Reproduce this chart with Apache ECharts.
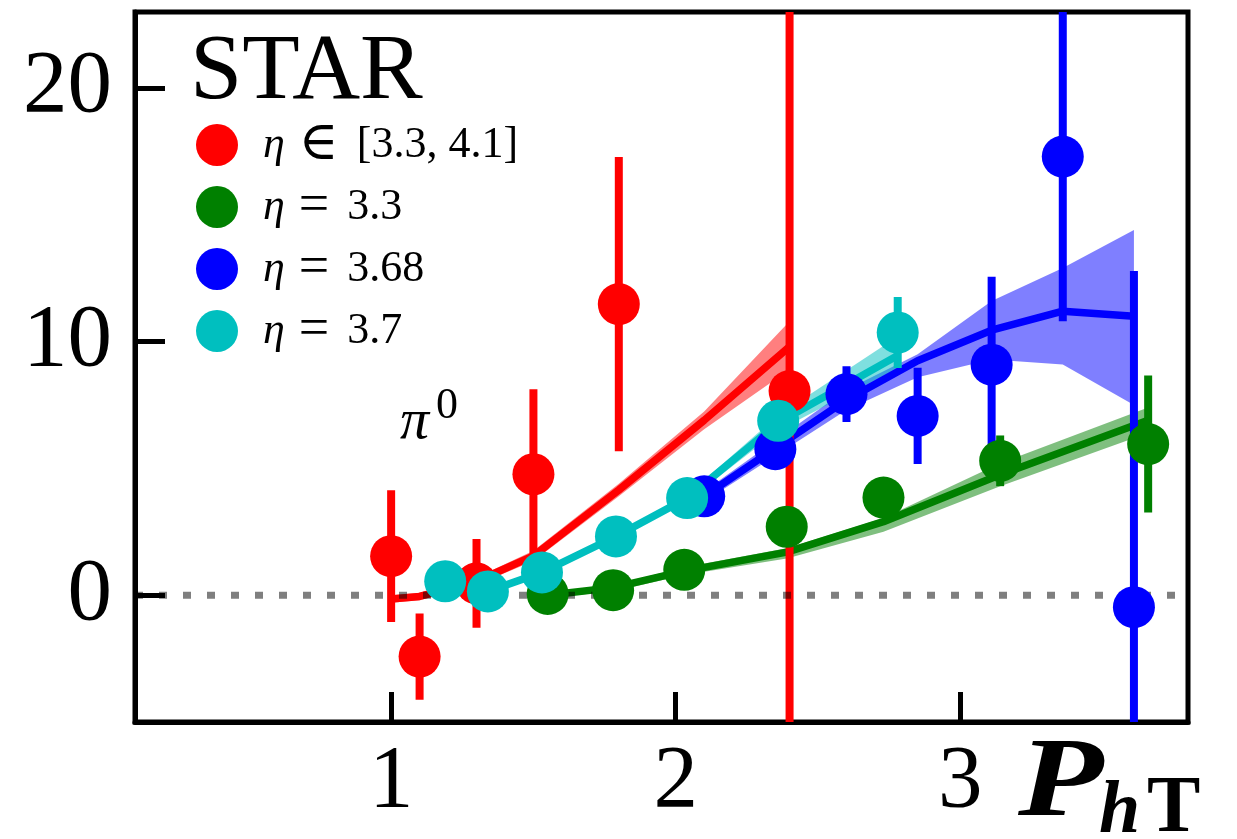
<!DOCTYPE html>
<html><head><meta charset="utf-8">
<script src="https://cdn.jsdelivr.net/npm/echarts@6/dist/echarts.min.js"></script>
<style>html,body{margin:0;padding:0;background:#fff}#c{width:1237px;height:839px}</style>
</head><body><div id="c"></div>
<script>
const FONT = '"Liberation Serif", "DejaVu Serif", serif';

// axis ranges and ticks
const xMin = 0.1, xMax = 3.8;
const yMin = -5, yMax = 23;
const xTicks = [1, 2, 3];
const yTicks = [0, 10, 20];

// legend names
const names = ['η ∈ [3.3, 4.1]', 'η = 3.3', 'η = 3.68', 'η = 3.7'];

// STAR data: eta in [3.3, 4.1]  (red)
const redX   = [1.0, 1.1, 1.3, 1.5, 1.8, 2.4];
const redY   = [1.54, -2.42, 0.47, 4.77, 11.48, 8.05];
const redErr = [2.6, 1.7, 1.75, 3.35, 5.8, 30];
// theory (red)
const redThX  = [1.0, 1.1, 1.3, 1.5, 1.8, 2.1, 2.4];
const redThY  = [-0.15, -0.05, 0.55, 1.55, 4.15, 6.9, 9.8];
const redThLo = [-0.3, -0.2, 0.4, 1.35, 3.9, 6.55, 8.9];
const redThHi = [0.0, 0.1, 0.7, 1.75, 4.4, 7.25, 10.8];

// eta = 3.3 (green)
const greenX   = [1.55, 1.78, 2.03, 2.39, 2.73, 3.14, 3.66];
const greenY   = [0.05, 0.2, 1.0, 2.7, 3.85, 5.3, 5.96];
const greenErr = [0.3, 0.3, 0.3, 0.4, 0.5, 1.0, 2.7];
const greenThY  = [0.0, 0.3, 0.95, 1.7, 2.9, 4.75, 6.9];
const greenThLo = [-0.1, 0.15, 0.8, 1.45, 2.5, 4.3, 6.4];
const greenThHi = [0.1, 0.4, 1.1, 1.85, 3.05, 5.2, 7.4];

// eta = 3.68 (blue)
const blueX   = [2.10, 2.35, 2.60, 2.85, 3.11, 3.36, 3.61];
const blueY   = [3.9, 5.76, 7.93, 7.07, 9.09, 17.3, -0.47];
const blueErr = [0.5, 0.6, 1.1, 1.9, 3.47, 6.5, 13.26];
const blueThY  = [3.9, 5.8, 7.7, 9.25, 10.45, 11.2, 11.0];
const blueThLo = [3.7, 5.5, 7.3, 8.6, 9.3, 9.1, 7.5];
const blueThHi = [4.1, 6.1, 8.1, 9.5, 11.6, 12.9, 14.4];

// eta = 3.7 (cyan)
const cyanX   = [1.19, 1.34, 1.53, 1.79, 2.04, 2.36, 2.78];
const cyanY   = [0.55, 0.15, 0.9, 2.32, 3.83, 6.88, 10.36];
const cyanErr = [0.3, 0.3, 0.3, 0.3, 0.3, 0.4, 1.4];
const cyanThY  = [0.55, 0.15, 0.9, 2.32, 3.83, 6.8, 9.45];
const cyanThLo = [0.5, 0.1, 0.85, 2.25, 3.7, 6.5, 8.95];
const cyanThHi = [0.6, 0.2, 0.95, 2.4, 3.95, 7.1, 10.2];

const RED = '#ff0000', GREEN = '#008000', BLUE = '#0000ff', CYAN = '#00bfbf';

const zip = (xs, ys) => xs.map((x, i) => [x, ys[i]]);

function band(xs, lo, hi, fill) {
  return {
    type: 'custom', z: 1, silent: true, clip: true,
    data: xs.map((x, i) => [x, lo[i], hi[i]]),
    renderItem: (params, api) => {
      if (params.dataIndex !== 0) return;
      const pts = [];
      for (let i = 0; i < xs.length; i++) pts.push(api.coord([xs[i], hi[i]]));
      for (let i = xs.length - 1; i >= 0; i--) pts.push(api.coord([xs[i], lo[i]]));
      return { type: 'polygon', shape: { points: pts }, style: { fill: fill } };
    }
  };
}
function theory(xs, ys, color) {
  return {
    type: 'line', z: 2, silent: true, data: zip(xs, ys), showSymbol: false, symbol: 'none',
    lineStyle: { color: color, width: 7.5 }, clip: true
  };
}
function errBars(xs, ys, err, color) {
  return {
    type: 'custom', z: 3, silent: true, clip: true,
    data: xs.map((x, i) => [x, ys[i] - err[i], ys[i] + err[i]]),
    renderItem: (params, api) => {
      const a = api.coord([api.value(0), api.value(1)]);
      const b = api.coord([api.value(0), api.value(2)]);
      return { type: 'line', shape: { x1: a[0], y1: a[1], x2: b[0], y2: b[1] },
               style: { stroke: color, lineWidth: 8 } };
    }
  };
}
function points(name, xs, ys, color) {
  return { type: 'scatter', name: name, z: 4, data: zip(xs, ys), symbol: 'circle', symbolSize: 42,
           itemStyle: { color: color, opacity: 1 }, silent: true };
}

const chart = echarts.init(document.getElementById('c'));
const mid = (f) => 0.305 * f;

chart.setOption({
  animation: false,
  backgroundColor: '#fff',
  grid: { left: 135, right: 49, top: 12, bottom: 117, show: true, borderColor: '#000', borderWidth: 5, containLabel: false },
  xAxis: {
    type: 'value', min: xMin, max: xMax,
    axisLine: { show: true, onZero: false, lineStyle: { color: '#000', width: 5 } },
    axisTick: { show: true, inside: true, length: 30, lineStyle: { color: '#000', width: 5 }, customValues: xTicks },
    axisLabel: { customValues: xTicks, color: '#000', fontFamily: FONT, fontSize: 89, margin: 16 },
    splitLine: { show: false }
  },
  yAxis: {
    type: 'value', min: yMin, max: yMax,
    axisLine: { show: true, onZero: false, lineStyle: { color: '#000', width: 5 } },
    axisTick: { show: true, inside: true, length: 30, lineStyle: { color: '#000', width: 5 }, customValues: yTicks },
    axisLabel: { customValues: yTicks, color: '#000', fontFamily: FONT, fontSize: 89, margin: 23, padding: [14, 0, 0, 0] },
    splitLine: { show: false }
  },
  legend: {
    data: names, orient: 'vertical', left: 196, top: 118, padding: 0,
    itemWidth: 42, itemHeight: 42, itemGap: 8, icon: 'circle', selectedMode: false,
    textStyle: {
      color: '#000', fontFamily: FONT, fontSize: 44, lineHeight: 42, padding: [0, 0, 0, 20],
      rich: {
        i: { fontStyle: 'italic', fontFamily: FONT, fontSize: 44, lineHeight: 42, color: '#000' },
        o: { fontFamily: FONT, fontSize: 54, lineHeight: 42, color: '#000', padding: [0, 18, 0, 14] },
        n: { fontFamily: FONT, fontSize: 44, lineHeight: 42, color: '#000' }
      }
    },
    formatter: (name) => {
      const parts = name.split(' ');
      return '{i|' + parts[0] + '}{o|' + parts[1] + '}{n|' + parts.slice(2).join(' ') + '}';
    }
  },
  graphic: [
    { type: 'text', x: 190, y: 102 - mid(94), style: { text: 'STAR', font: '94px ' + FONT, fill: '#000', verticalAlign: 'middle', align: 'left' } },
    { type: 'text', x: 400, y: 440 - mid(58), style: { text: 'π', font: 'italic 58px ' + FONT, fill: '#000', verticalAlign: 'middle', align: 'left' } },
    { type: 'text', x: 436, y: 420 - mid(44), style: { text: '0', font: '44px ' + FONT, fill: '#000', verticalAlign: 'middle', align: 'left' } },
    { type: 'text', x: 1018, y: 820 - mid(112), scaleX: 1.25, originX: 0, originY: 0, style: { text: 'P', font: 'italic bold 112px ' + FONT, fill: '#000', verticalAlign: 'middle', align: 'left' } },
    { type: 'text', x: 1099, y: 835 - mid(74), style: { text: 'h', font: 'italic bold 74px ' + FONT, fill: '#000', verticalAlign: 'middle', align: 'left' } },
    { type: 'text', x: 1147, y: 835 - mid(80), style: { text: 'T', font: 'bold 80px ' + FONT, fill: '#000', verticalAlign: 'middle', align: 'left' } }
  ],
  series: [
    band(redThX, redThLo, redThHi, 'rgba(255,0,0,0.5)'),
    band(greenX, greenThLo, greenThHi, 'rgba(0,128,0,0.5)'),
    band(blueX, blueThLo, blueThHi, 'rgba(0,0,255,0.5)'),
    band(cyanX, cyanThLo, cyanThHi, 'rgba(0,191,191,0.5)'),
    theory(redThX, redThY, RED),
    theory(greenX, greenThY, GREEN),
    theory(blueX, blueThY, BLUE),
    theory(cyanX, cyanThY, CYAN),
    errBars(redX, redY, redErr, RED),
    errBars(greenX, greenY, greenErr, GREEN),
    errBars(blueX, blueY, blueErr, BLUE),
    errBars(cyanX, cyanY, cyanErr, CYAN),
    {
      type: 'line', z: 3.5, silent: true, data: [[xMin, 0], [xMax, 0]], showSymbol: false, symbol: 'none',
      lineStyle: { color: 'rgba(0,0,0,0.5)', width: 7, type: [8, 16] }
    },
    points(names[0], redX, redY, RED),
    points(names[1], greenX, greenY, GREEN),
    points(names[2], blueX, blueY, BLUE),
    points(names[3], cyanX, cyanY, CYAN)
  ]
});
</script></body></html>
